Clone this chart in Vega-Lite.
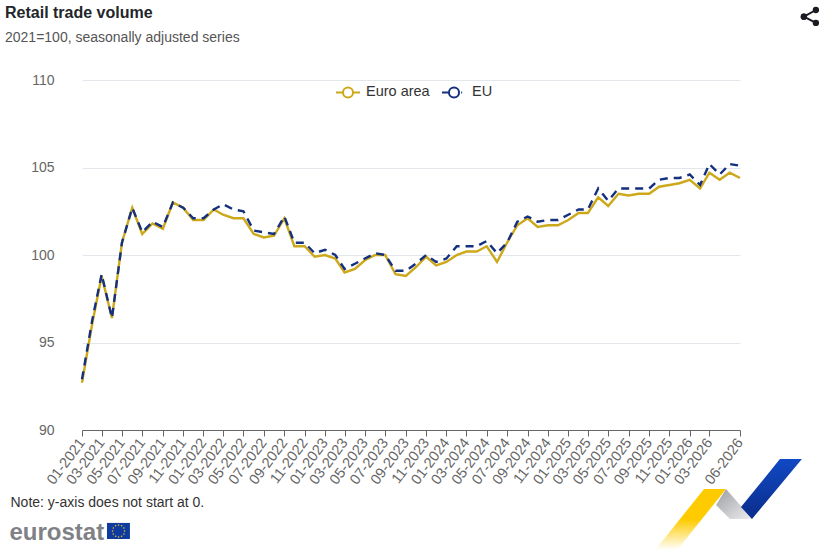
{"$schema":"https://vega.github.io/schema/vega-lite/v6.json","width":658,"height":350,"autosize":"none","padding":{"left":82,"top":80,"right":83,"bottom":120},"background":"white",
"config":{"view":{"stroke":null},"font":"Liberation Sans"},
"title":{"text":"Retail trade volume","subtitle":"2021=100, seasonally adjusted series","anchor":"start","frame":"group","dx":-77,"offset":-39,"font":"Liberation Sans","fontSize":16,"fontWeight":"bold","color":"#22262b","subtitleFont":"Liberation Sans","subtitleFontSize":14,"subtitleColor":"#555555","subtitlePadding":10},
"datasets":{
"series":[
{"month":"2021-01-01","Euro area":92.7,"EU":92.9},{"month":"2021-02-01","Euro area":96.1,"EU":96.3},{"month":"2021-03-01","Euro area":98.8,"EU":98.9},{"month":"2021-04-01","Euro area":96.4,"EU":96.4},{"month":"2021-05-01","Euro area":100.7,"EU":100.7},{"month":"2021-06-01","Euro area":102.7,"EU":102.7},{"month":"2021-07-01","Euro area":101.2,"EU":101.3},{"month":"2021-08-01","Euro area":101.8,"EU":101.9},{"month":"2021-09-01","Euro area":101.5,"EU":101.6},{"month":"2021-10-01","Euro area":103.0,"EU":103.0},{"month":"2021-11-01","Euro area":102.7,"EU":102.7},{"month":"2021-12-01","Euro area":102.0,"EU":102.1},
{"month":"2022-01-01","Euro area":102.0,"EU":102.1},{"month":"2022-02-01","Euro area":102.6,"EU":102.6},{"month":"2022-03-01","Euro area":102.3,"EU":102.9},{"month":"2022-04-01","Euro area":102.1,"EU":102.6},{"month":"2022-05-01","Euro area":102.1,"EU":102.5},{"month":"2022-06-01","Euro area":101.2,"EU":101.4},{"month":"2022-07-01","Euro area":101.0,"EU":101.3},{"month":"2022-08-01","Euro area":101.1,"EU":101.2},{"month":"2022-09-01","Euro area":102.1,"EU":102.2},{"month":"2022-10-01","Euro area":100.5,"EU":100.7},{"month":"2022-11-01","Euro area":100.5,"EU":100.7},{"month":"2022-12-01","Euro area":99.9,"EU":100.1},
{"month":"2023-01-01","Euro area":100.0,"EU":100.3},{"month":"2023-02-01","Euro area":99.8,"EU":100.0},{"month":"2023-03-01","Euro area":99.0,"EU":99.2},{"month":"2023-04-01","Euro area":99.2,"EU":99.5},{"month":"2023-05-01","Euro area":99.7,"EU":99.8},{"month":"2023-06-01","Euro area":100.0,"EU":100.1},{"month":"2023-07-01","Euro area":100.0,"EU":100.0},{"month":"2023-08-01","Euro area":98.9,"EU":99.1},{"month":"2023-09-01","Euro area":98.8,"EU":99.1},{"month":"2023-10-01","Euro area":99.3,"EU":99.5},{"month":"2023-11-01","Euro area":99.9,"EU":100.0},{"month":"2023-12-01","Euro area":99.4,"EU":99.6},
{"month":"2024-01-01","Euro area":99.6,"EU":99.8},{"month":"2024-02-01","Euro area":100.0,"EU":100.5},{"month":"2024-03-01","Euro area":100.2,"EU":100.5},{"month":"2024-04-01","Euro area":100.2,"EU":100.5},{"month":"2024-05-01","Euro area":100.5,"EU":100.8},{"month":"2024-06-01","Euro area":99.6,"EU":100.1},{"month":"2024-07-01","Euro area":100.7,"EU":100.7},{"month":"2024-08-01","Euro area":101.7,"EU":101.9},{"month":"2024-09-01","Euro area":102.1,"EU":102.2},{"month":"2024-10-01","Euro area":101.6,"EU":101.9},{"month":"2024-11-01","Euro area":101.7,"EU":102.0},{"month":"2024-12-01","Euro area":101.7,"EU":102.0},
{"month":"2025-01-01","Euro area":102.0,"EU":102.3},{"month":"2025-02-01","Euro area":102.4,"EU":102.6},{"month":"2025-03-01","Euro area":102.4,"EU":102.6},{"month":"2025-04-01","Euro area":103.3,"EU":103.8},{"month":"2025-05-01","Euro area":102.8,"EU":103.1},{"month":"2025-06-01","Euro area":103.5,"EU":103.8},{"month":"2025-07-01","Euro area":103.4,"EU":103.8},{"month":"2025-08-01","Euro area":103.5,"EU":103.8},{"month":"2025-09-01","Euro area":103.5,"EU":103.8},{"month":"2025-10-01","Euro area":103.9,"EU":104.3},{"month":"2025-11-01","Euro area":104.0,"EU":104.4},{"month":"2025-12-01","Euro area":104.1,"EU":104.4},
{"month":"2026-01-01","Euro area":104.3,"EU":104.6},{"month":"2026-02-01","Euro area":103.8,"EU":104.0},{"month":"2026-03-01","Euro area":104.7,"EU":105.2},{"month":"2026-04-01","Euro area":104.3,"EU":104.6},{"month":"2026-05-01","Euro area":104.7,"EU":105.2},{"month":"2026-06-01","Euro area":104.4,"EU":105.1}],
"stars":[{"d":"2021-04-21","v":84.57},{"d":"2021-04-30","v":84.53},{"d":"2021-05-07","v":84.4},{"d":"2021-05-09","v":84.23},{"d":"2021-05-07","v":84.06},{"d":"2021-04-30","v":83.93},{"d":"2021-04-21","v":83.89},{"d":"2021-04-12","v":83.93},{"d":"2021-04-05","v":84.06},{"d":"2021-04-03","v":84.23},{"d":"2021-04-05","v":84.4},{"d":"2021-04-12","v":84.53}],
"share":[{"part":"a","d":"2026-12-10","v":113.62},{"part":"a","d":"2027-01-15","v":114},{"part":"b","d":"2026-12-10","v":113.62},{"part":"b","d":"2027-01-15","v":113.26}]
},
"layer":[
{"data":{"name":"series"},
"mark":{"type":"line","strokeWidth":2.4,"strokeJoin":"miter","color":"#cca81a"},
"encoding":{
"x":{"field":"month","type":"temporal","scale":{"type":"utc","domain":["2021-01-01","2026-06-01"],"nice":false},
"axis":{"values":["2021-01-01","2021-03-01","2021-05-01","2021-07-01","2021-09-01","2021-11-01","2022-01-01","2022-03-01","2022-05-01","2022-07-01","2022-09-01","2022-11-01","2023-01-01","2023-03-01","2023-05-01","2023-07-01","2023-09-01","2023-11-01","2024-01-01","2024-03-01","2024-05-01","2024-07-01","2024-09-01","2024-11-01","2025-01-01","2025-03-01","2025-05-01","2025-07-01","2025-09-01","2025-11-01","2026-01-01","2026-03-01","2026-06-01"],
"tickCount":66,"format":"%m-%Y","labelAngle":-53,"labelAlign":"right","labelBaseline":"middle","labelFontSize":14.5,"labelColor":"#666666","labelPadding":4,"labelOverlap":false,"labelFlush":false,"tickColor":"#666666","tickSize":6,"domainColor":"#666666","grid":false,
"title":"Note: y-axis does not start at 0.","titleX":-72,"titleY":76,"titleAlign":"left","titleBaseline":"alphabetic","titleFontSize":14,"titleFontWeight":"normal","titleColor":"#333333"}},
"y":{"field":"Euro area","type":"quantitative","scale":{"domain":[90,110],"nice":false,"zero":false},
"axis":{"values":[90,95,100,105,110],"labelFontSize":14,"labelColor":"#666666","labelPadding":28,"ticks":false,"tickSize":0,"domain":false,"grid":true,"gridColor":"#e3e6ea","gridWidth":1,
"title":"eurostat","titleAngle":0,"titleX":-73,"titleY":459,"titleAlign":"left","titleBaseline":"alphabetic","titleFontSize":24,"titleFontWeight":"bold","titleColor":"#7f8186"}}}},
{"data":{"name":"series"},
"mark":{"type":"line","strokeWidth":2.4,"strokeJoin":"miter","color":"#14307f","strokeDash":[8,6]},
"encoding":{"x":{"field":"month","type":"temporal"},"y":{"field":"EU","type":"quantitative"}}},
{"data":{"name":"series"},"transform":[{"fold":["Euro area","EU"],"as":["series","value"]}],
"mark":{"type":"point","opacity":0,"size":576,"filled":false,"strokeWidth":2},
"encoding":{"x":{"field":"month","type":"temporal"},"y":{"field":"value","type":"quantitative"},
"color":{"field":"series","type":"nominal","scale":{"domain":["Euro area","EU"],"range":["#cca81a","#14307f"]},"legend":{"title":null,"orient":"none","direction":"horizontal","legendX":253,"legendY":-1,"symbolOpacity":1,"symbolSize":576,"symbolStrokeWidth":2,"labelFontSize":14.5,"labelColor":"#333333","labelOffset":5,"columnPadding":8}},
"shape":{"field":"series","type":"nominal","scale":{"domain":["Euro area","EU"],"range":["M-1,0L-0.42,0M0.42,0L1,0M-0.42,0A0.42,0.42 0 1 0 0.42,0A0.42,0.42 0 1 0 -0.42,0","M-1,0L-0.42,0M0.6,0L0.68,0M-0.42,0A0.42,0.42 0 1 0 0.42,0A0.42,0.42 0 1 0 -0.42,0"]}}}},
{"data":{"values":[{"d":"2021-03-17","d2":"2021-05-25","v":84.69,"v2":83.77}]},"mark":{"type":"rect","color":"#0f3a9e"},
"encoding":{"x":{"field":"d","type":"temporal"},"x2":{"field":"d2"},"y":{"field":"v","type":"quantitative"},"y2":{"field":"v2"}}},
{"data":{"name":"stars"},"mark":{"type":"circle","size":2.5,"color":"#e8c832","opacity":1},
"encoding":{"x":{"field":"d","type":"temporal"},"y":{"field":"v","type":"quantitative"}}},
{"data":{"values":[{"d":"2026-02-13","d2":"2026-04-20","v":86.63},{"d":"2025-09-19","d2":"2025-11-24","v":83.14}]},
"mark":{"type":"area","orient":"horizontal","color":{"gradient":"linear","x1":0,"y1":0,"x2":0,"y2":1,"stops":[{"offset":0,"color":"#fecb00"},{"offset":0.5,"color":"#fecb00"},{"offset":1,"color":"#ffffff"}]}},
"encoding":{"x":{"field":"d","type":"temporal"},"x2":{"field":"d2"},"y":{"field":"v","type":"quantitative"}}},
{"data":{"values":[{"d":"2026-04-20","d2":"2026-04-20","v":86.63},{"d":"2026-03-21","d2":"2026-06-01","v":85.71},{"d":"2026-05-02","d2":"2026-07-07","v":84.91}]},
"mark":{"type":"area","orient":"horizontal","color":{"gradient":"linear","x1":0,"y1":0,"x2":1,"y2":1,"stops":[{"offset":0,"color":"#9c9da1"},{"offset":1,"color":"#eeeef0"}]}},
"encoding":{"x":{"field":"d","type":"temporal"},"x2":{"field":"d2"},"y":{"field":"v","type":"quantitative"}}},
{"data":{"values":[{"d":"2026-09-29","d2":"2026-12-04","v":88.34},{"d":"2026-06-04","d2":"2026-08-06","v":85.6},{"d":"2026-07-07","d2":"2026-07-07","v":84.91}]},
"mark":{"type":"area","orient":"horizontal","color":{"gradient":"linear","x1":0,"y1":0,"x2":0,"y2":1,"stops":[{"offset":0,"color":"#1149c4"},{"offset":1,"color":"#0b2d8a"}]}},
"encoding":{"x":{"field":"d","type":"temporal"},"x2":{"field":"d2"},"y":{"field":"v","type":"quantitative"}}},
{"data":{"name":"share"},"mark":{"type":"line","strokeWidth":2,"color":"#1a1a22"},
"encoding":{"x":{"field":"d","type":"temporal"},"y":{"field":"v","type":"quantitative"},"detail":{"field":"part"}}},
{"data":{"name":"share"},"mark":{"type":"circle","size":40,"color":"#1a1a22","opacity":1},
"encoding":{"x":{"field":"d","type":"temporal"},"y":{"field":"v","type":"quantitative"}}}
]}
